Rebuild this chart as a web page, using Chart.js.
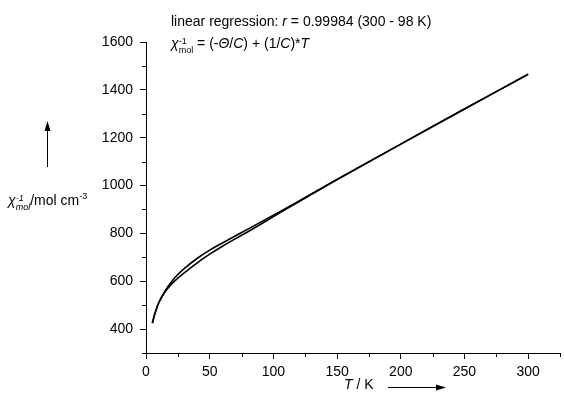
<!DOCTYPE html>
<html>
<head>
<meta charset="utf-8">
<script src="https://cdn.jsdelivr.net/npm/chart.js@4.4.0/dist/chart.umd.min.js"></script>
<style>
  body { margin: 0; background: #fff; }
  #wrap { position: relative; width: 564px; height: 401px; font-family: "Liberation Sans", Arial, sans-serif; color: #000; }
  #chart { position: absolute; left: 0; top: 0; }
  .lbl { position: absolute; font-size: 14px; white-space: nowrap; line-height: 16px; }
  .ss { display: inline-block; vertical-align: -5px; font-size: 9px; line-height: 9px; }
  .ss span { display: block; }
  .sup { font-size: 9px; vertical-align: 6px; }
</style>
</head>
<body>
<div id="wrap">
  <canvas id="chart" width="564" height="401"></canvas>
  <div class="lbl" style="left:171px; top:13px;">linear regression: <i>r</i> = 0.99984 (300 - 98 K)</div>
  <div class="lbl" style="left:171px; top:35px;"><i>&chi;</i><span class="ss"><span>-1</span><span>mol</span></span> = (-<i>&Theta;</i>/<i>C</i>) + (1/<i>C</i>)*<i>T</i></div>
  <div class="lbl" style="left:8px; top:188px;"><i>&chi;</i><span class="ss"><i>-1</i><br><i>mol</i></span>/mol cm<span class="sup">-3</span></div>
  <div class="lbl" style="left:344px; top:376px;"><i>T</i> / K</div>
</div>
<script>
// temperature points (K) and inverse susceptibility (mol cm^-3), two runs
const temps = [5, 7, 10, 15, 20, 25, 30, 40, 50, 60, 70, 80, 90, 100, 110, 125, 150, 200, 250, 300];
const chiInvUpper = [425, 465, 510, 560, 598, 628, 653, 695, 730, 760, 789, 818, 847, 876, 905, 950, 1025, 1173, 1320, 1465];
const chiInvLower = [425, 465, 510, 556, 588, 613, 635, 676, 713, 746, 777, 807, 838, 870, 902, 948, 1025, 1173, 1320, 1465];

const xTicks = [0, 50, 100, 150, 200, 250, 300];
const yTicks = [400, 600, 800, 1000, 1200, 1400, 1600];
const xMinorStep = 25;
const yMinorStep = 100;

const toPoints = (ys) => temps.map((t, i) => ({ x: t, y: ys[i] }));

// small ticks between the labelled ones, plus the two axis arrows
const extrasPlugin = {
  id: "extras",
  afterDraw(chart) {
    const ctx = chart.ctx;
    const xs = chart.scales.x;
    const ys = chart.scales.y;
    ctx.save();
    ctx.strokeStyle = "#000";
    ctx.fillStyle = "#000";
    ctx.lineWidth = 1;
    ctx.beginPath();
    for (let v = xs.min; v <= xs.max; v += xMinorStep) {
      if (xTicks.includes(v)) continue;
      const px = Math.round(xs.getPixelForValue(v)) + 0.5;
      ctx.moveTo(px, ys.bottom);
      ctx.lineTo(px, ys.bottom + 4);
    }
    for (let v = ys.min; v <= ys.max; v += yMinorStep) {
      if (yTicks.includes(v)) continue;
      const py = Math.round(ys.getPixelForValue(v)) + 0.5;
      ctx.moveTo(xs.left - 4, py);
      ctx.lineTo(xs.left, py);
    }
    // up arrow beside the y title
    ctx.moveTo(47.5, 167);
    ctx.lineTo(47.5, 128);
    // right arrow after the x title
    ctx.moveTo(388, 387.5);
    ctx.lineTo(440, 387.5);
    ctx.stroke();
    ctx.beginPath();
    ctx.moveTo(47.5, 121);
    ctx.lineTo(44.5, 131);
    ctx.lineTo(50.5, 131);
    ctx.closePath();
    ctx.moveTo(446, 387.5);
    ctx.lineTo(436, 384.5);
    ctx.lineTo(436, 390.5);
    ctx.closePath();
    ctx.fill();
    ctx.restore();
  },
};

const axisFont = { family: "'Liberation Sans', Arial, sans-serif", size: 14 };

const runStyle = {
  borderColor: "#000",
  borderWidth: 1.6,
  pointRadius: 0,
  tension: 0.35,
  fill: false,
};

new Chart(document.getElementById("chart"), {
  type: "line",
  data: {
    datasets: [
      { label: "run 1", data: toPoints(chiInvUpper), ...runStyle },
      { label: "run 2", data: toPoints(chiInvLower), ...runStyle },
    ],
  },
  options: {
    responsive: false,
    animation: false,
    layout: { padding: { top: 42, right: 4, left: 0, bottom: 0 } },
    plugins: {
      legend: { display: false },
      tooltip: { enabled: false },
    },
    scales: {
      x: {
        type: "linear",
        min: 0,
        max: 325,
        afterBuildTicks: (s) => { s.ticks = xTicks.map((v) => ({ value: v })); },
        afterFit: (s) => { s.height = 48; },
        ticks: { color: "#000", font: axisFont, padding: 5, maxRotation: 0, callback: (v) => String(v) },
        grid: { drawOnChartArea: false, drawTicks: true, tickLength: 6, color: "#000", lineWidth: 1 },
        border: { display: true, color: "#000", width: 1 },
      },
      y: {
        type: "linear",
        min: 300,
        max: 1600,
        afterBuildTicks: (s) => { s.ticks = yTicks.map((v) => ({ value: v })); },
        afterFit: (s) => { s.width = 146; },
        ticks: { color: "#000", font: axisFont, padding: 7, callback: (v) => String(v) },
        grid: { drawOnChartArea: false, drawTicks: true, tickLength: 6, color: "#000", lineWidth: 1 },
        border: { display: true, color: "#000", width: 1 },
      },
    },
  },
  plugins: [extrasPlugin],
});
</script>
</body>
</html>
